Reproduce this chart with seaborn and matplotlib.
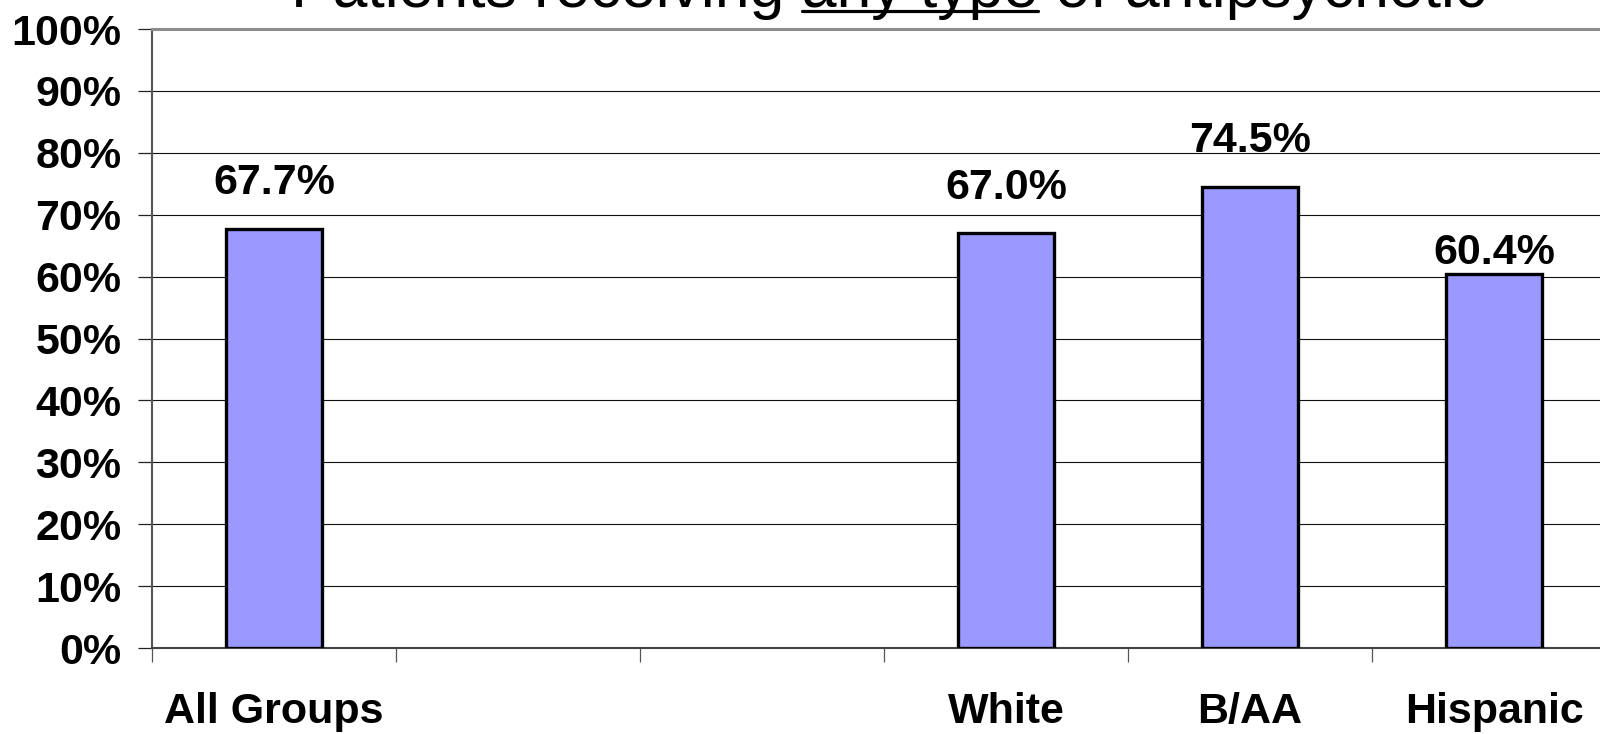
import numpy as np
import pandas as pd
import matplotlib
matplotlib.use("Agg")
import matplotlib.pyplot as plt
from matplotlib.lines import Line2D
import seaborn as sns

# Share of patients receiving any antipsychotic, by group (%)
groups = ["All Groups", "White", "B/AA", "Hispanic"]
percents = [67.7, 67.0, 74.5, 60.4]
value_labels = ["67.7%", "67.0%", "74.5%", "60.4%"]

# Category slots along the x axis (two empty slots between the overall bar and the groups)
slot_order = ["All Groups", "", " ", "White", "B/AA", "Hispanic"]
y_ticks = [0, 10, 20, 30, 40, 50, 60, 70, 80, 90, 100]
y_tick_labels = [f"{v}%" for v in y_ticks]

title_parts = ["Patients receiving ", "any type", " of antipsychotic"]

sns.set_theme(style="white")
plt.rcParams["font.family"] = ["Liberation Sans", "DejaVu Sans"]
plt.rcParams["text.color"] = "black"
plt.rcParams["xtick.color"] = "black"
plt.rcParams["ytick.color"] = "black"
plt.rcParams["xtick.labelcolor"] = "black"
plt.rcParams["ytick.labelcolor"] = "black"

W, H, DPI = 1600, 734, 100
fig = plt.figure(figsize=(W / DPI, H / DPI), dpi=DPI)
fig.patch.set_facecolor("white")

ax_left, ax_bottom = 152, 86
ax_w, ax_h = 6 * 244, 619
ax = fig.add_axes([ax_left / W, ax_bottom / H, ax_w / W, ax_h / H])

df = pd.DataFrame({"group": groups, "pct": percents})
sns.barplot(data=df, x="group", y="pct", order=slot_order, ax=ax,
            color="#9999FF", saturation=1, edgecolor="black",
            linewidth=2.4, width=0.39, zorder=3)

ax.set_xlim(-0.5, len(slot_order) - 0.5)
ax.set_ylim(0, 100)
ax.set_xlabel("")
ax.set_ylabel("")

# horizontal gridlines
for v in y_ticks[1:-1]:
    ax.axhline(v, color="#111111", lw=0.8, zorder=1)

# spines
ax.spines["right"].set_visible(False)
ax.spines["top"].set_color("#8c8c8c")
ax.spines["top"].set_linewidth(2.2)
ax.spines["left"].set_color("#555555")
ax.spines["left"].set_linewidth(1.5)
ax.spines["bottom"].set_color("#444444")
ax.spines["bottom"].set_linewidth(1.5)

# y axis ticks
ax.set_yticks(y_ticks)
ax.set_yticklabels(y_tick_labels, fontsize=31, fontweight="bold", color="black")
ax.tick_params(axis="y", direction="out", length=10, width=0.9,
               color="#222222", pad=12, left=True)

# x axis: boundary ticks (major) and centred labels (minor)
n = len(slot_order)
ax.set_xticks(np.arange(-0.5, n - 0.5 + 0.01, 1.0))
ax.set_xticklabels([])
ax.set_xticks(np.arange(n), minor=True)
ax.set_xticklabels(slot_order, minor=True, fontsize=31, fontweight="bold",
                   color="black")
ax.tick_params(axis="x", which="major", direction="out", length=10,
               width=0.9, color="#555555", bottom=True)
ax.tick_params(axis="x", which="minor", length=0, pad=32)

# value labels above the bars
label_offsets_pt = [25, 25, 25, 7]
for name, val, txt, off in zip(groups, percents, value_labels, label_offsets_pt):
    xi = slot_order.index(name)
    ax.annotate(txt, xy=(xi, val), xytext=(0, off), textcoords="offset points",
                ha="center", va="baseline", fontsize=31, fontweight="bold",
                color="black", zorder=4, annotation_clip=False)

# title with underlined phrase
title_kw = dict(fontsize=45, fontweight="normal", va="baseline", ha="left",
                family=["Liberation Sans", "DejaVu Sans"], color="black")
full_title = "".join(title_parts)
fig.canvas.draw()
renderer = fig.canvas.get_renderer()

def text_width(s):
    t = fig.text(0, 0, s, **title_kw)
    w = t.get_window_extent(renderer).width
    t.remove()
    return w

total_w = text_width(full_title)
upto = text_width(title_parts[0] + title_parts[1])
mid_w = text_width(title_parts[1])

center_x = 889
baseline_y = H - 7
x0 = center_x - total_w / 2
fig.text(x0 / W, baseline_y / H, full_title, **title_kw)

ul_y = baseline_y - 3.5
ul_x0 = x0 + upto - mid_w
ul_x1 = x0 + upto
fig.add_artist(Line2D([ul_x0 / W, ul_x1 / W], [ul_y / H, ul_y / H],
                      transform=fig.transFigure, color="black", lw=2.3))

fig.savefig("out.png", dpi=DPI, facecolor="white")
